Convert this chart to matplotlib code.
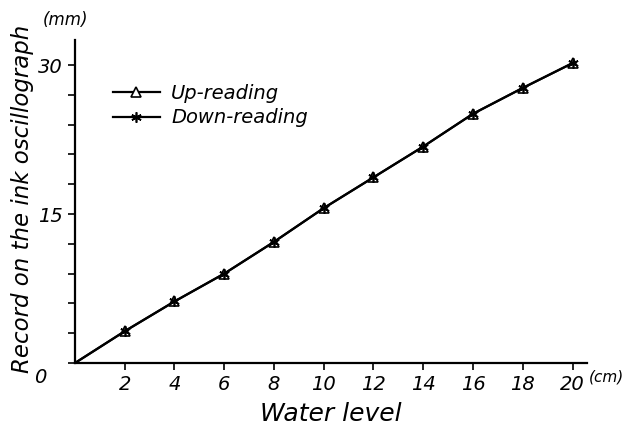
import matplotlib
matplotlib.use("Agg")
from matplotlib import pyplot as plt
from matplotlib.ticker import MultipleLocator

# water level (cm) and record on the ink oscillograph (mm)
water_level = [0, 2, 4, 6, 8, 10, 12, 14, 16, 18, 20]
up_reading = [0, 3.2, 6.2, 9.0, 12.2, 15.6, 18.7, 21.8, 25.1, 27.7, 30.2]
down_reading = [0, 3.2, 6.2, 9.0, 12.2, 15.6, 18.7, 21.8, 25.1, 27.7, 30.2]
x_ticks = [2, 4, 6, 8, 10, 12, 14, 16, 18, 20]
y_ticks = [15, 30]

plt.rcParams['font.family'] = ['DejaVu Sans']
plt.rcParams['font.style'] = 'italic'

fig = plt.figure(figsize=(6.28, 4.32), dpi=100)
ax = fig.add_axes([0.1194, 0.1597, 0.816, 0.747])

ax.plot(water_level, up_reading, color='black', lw=1.6, marker='^', ms=6.5,
        mfc='white', mec='black', mew=1.2, markevery=range(1, 11),
        label='Up-reading')
ax.plot(water_level, down_reading, color='black', lw=1.6, marker=(6, 2, 0), ms=7.5,
        mec='black', mew=1.2, markevery=range(1, 11), label='Down-reading')

ax.set_xlim(0, 20.6)
ax.set_ylim(0, 32.5)
ax.set_xticks(x_ticks)
ax.set_yticks(y_ticks)
ax.yaxis.set_minor_locator(MultipleLocator(3))
ax.tick_params(axis='both', which='major', labelsize=14, width=1.2, length=5)
ax.tick_params(axis='y', which='minor', width=1.2, length=5)

for s in ['top', 'right']:
    ax.spines[s].set_visible(False)
for s in ['left', 'bottom']:
    ax.spines[s].set_linewidth(1.6)

ax.set_xlabel('Water level', fontsize=18, labelpad=6)
ax.set_ylabel('Record on the ink oscillograph', fontsize=16.5)
ax.yaxis.set_label_coords(-0.08, 0.51)
fig.text(0.064, 0.126, '0', fontsize=14, ha='center', va='center')
fig.text(0.965, 0.128, '(cm)', fontsize=11, ha='center', va='center')
fig.text(0.104, 0.954, '(mm)', fontsize=12, ha='center', va='center')

ax.legend(loc='upper left', bbox_to_anchor=(0.04, 0.92), frameon=False,
          fontsize=14, handlelength=2.4, handletextpad=0.6, labelspacing=0.3)

fig.savefig('out.png', dpi=100)
